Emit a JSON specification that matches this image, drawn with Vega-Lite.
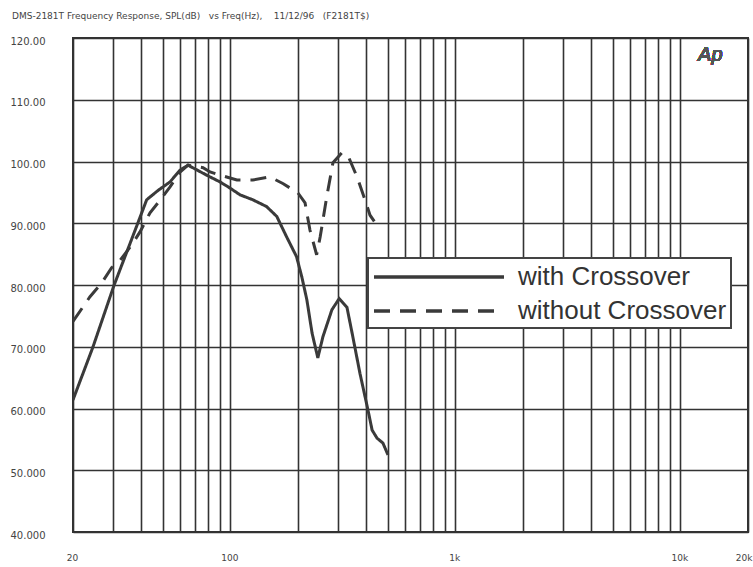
{
  "$schema": "https://vega.github.io/schema/vega-lite/v6.json",
  "width": 675,
  "height": 494,
  "autosize": "none",
  "padding": {"left": 73, "top": 38, "right": 5, "bottom": 35},
  "background": "#ffffff",
  "title": {
    "text": "DMS-2181T Frequency Response,  SPL(dB)\u00a0\u00a0 vs Freq(Hz),\u00a0\u00a0\u00a0 11/12/96\u00a0\u00a0 (F2181T$)",
    "anchor": "start",
    "frame": "group",
    "dx": -61,
    "offset": 15,
    "font": "DejaVu Sans",
    "fontSize": 9,
    "fontWeight": "normal",
    "color": "#444"
  },
  "config": {
    "view": {"stroke": "#333", "strokeWidth": 2},
    "axis": {"domain": false, "ticks": false, "gridColor": "#333", "gridWidth": 1.6, "gridOpacity": 1}
  },
  "data": {
    "values": [
      {"series": "with Crossover", "f": 20, "db": 61.4},
      {"series": "with Crossover", "f": 24.5, "db": 69.9},
      {"series": "with Crossover", "f": 30.4, "db": 79.9},
      {"series": "with Crossover", "f": 38.9, "db": 90.1},
      {"series": "with Crossover", "f": 42.5, "db": 93.8},
      {"series": "with Crossover", "f": 47.7, "db": 95.3},
      {"series": "with Crossover", "f": 54, "db": 96.7},
      {"series": "with Crossover", "f": 59.8, "db": 98.6},
      {"series": "with Crossover", "f": 64.9, "db": 99.4},
      {"series": "with Crossover", "f": 75.7, "db": 98.1},
      {"series": "with Crossover", "f": 81.3, "db": 97.5},
      {"series": "with Crossover", "f": 90, "db": 96.7},
      {"series": "with Crossover", "f": 99.7, "db": 95.7},
      {"series": "with Crossover", "f": 110.5, "db": 94.6},
      {"series": "with Crossover", "f": 126, "db": 93.8},
      {"series": "with Crossover", "f": 145, "db": 92.7},
      {"series": "with Crossover", "f": 161, "db": 91.1},
      {"series": "with Crossover", "f": 178, "db": 87.8},
      {"series": "with Crossover", "f": 197, "db": 84.6},
      {"series": "with Crossover", "f": 208, "db": 81.3},
      {"series": "with Crossover", "f": 219, "db": 77.6},
      {"series": "with Crossover", "f": 231, "db": 72.2},
      {"series": "with Crossover", "f": 245, "db": 68.2},
      {"series": "with Crossover", "f": 258, "db": 71.6},
      {"series": "with Crossover", "f": 283, "db": 76.0},
      {"series": "with Crossover", "f": 305, "db": 77.8},
      {"series": "with Crossover", "f": 330, "db": 76.4},
      {"series": "with Crossover", "f": 348, "db": 72.2},
      {"series": "with Crossover", "f": 377, "db": 65.7},
      {"series": "with Crossover", "f": 409, "db": 59.8},
      {"series": "with Crossover", "f": 427, "db": 56.5},
      {"series": "with Crossover", "f": 449, "db": 55.2},
      {"series": "with Crossover", "f": 477, "db": 54.4},
      {"series": "with Crossover", "f": 502, "db": 52.5},
      {"series": "without Crossover", "f": 20, "db": 74.1},
      {"series": "without Crossover", "f": 23.8, "db": 78.1},
      {"series": "without Crossover", "f": 26.8, "db": 80.3},
      {"series": "without Crossover", "f": 29.7, "db": 82.8},
      {"series": "without Crossover", "f": 32.4, "db": 84.0},
      {"series": "without Crossover", "f": 36.5, "db": 86.5},
      {"series": "without Crossover", "f": 39.7, "db": 88.6},
      {"series": "without Crossover", "f": 44, "db": 91.7},
      {"series": "without Crossover", "f": 47.7, "db": 93.3},
      {"series": "without Crossover", "f": 54, "db": 95.9},
      {"series": "without Crossover", "f": 59.8, "db": 98.3},
      {"series": "without Crossover", "f": 64.9, "db": 99.4},
      {"series": "without Crossover", "f": 75.7, "db": 99.0},
      {"series": "without Crossover", "f": 81.3, "db": 98.3},
      {"series": "without Crossover", "f": 90, "db": 97.8},
      {"series": "without Crossover", "f": 107, "db": 97.0},
      {"series": "without Crossover", "f": 126, "db": 97.0},
      {"series": "without Crossover", "f": 150, "db": 97.5},
      {"series": "without Crossover", "f": 172, "db": 96.4},
      {"series": "without Crossover", "f": 200, "db": 94.9},
      {"series": "without Crossover", "f": 215, "db": 93.3},
      {"series": "without Crossover", "f": 226, "db": 88.9},
      {"series": "without Crossover", "f": 242, "db": 84.9},
      {"series": "without Crossover", "f": 251, "db": 87.8},
      {"series": "without Crossover", "f": 269, "db": 94.5},
      {"series": "without Crossover", "f": 286, "db": 99.8},
      {"series": "without Crossover", "f": 313, "db": 101.4},
      {"series": "without Crossover", "f": 334, "db": 100.9},
      {"series": "without Crossover", "f": 366, "db": 97.5},
      {"series": "without Crossover", "f": 397, "db": 93.8},
      {"series": "without Crossover", "f": 418, "db": 91.3},
      {"series": "without Crossover", "f": 448, "db": 89.7}
    ]
  },
  "layer": [
    {
      "mark": {"type": "line", "strokeWidth": 3, "color": "#3a3a3a", "clip": true},
      "encoding": {
        "x": {
          "field": "f", "type": "quantitative",
          "scale": {"type": "log", "domain": [20, 20000], "nice": false},
          "axis": {
            "title": null,
            "values": [20,30,40,50,60,70,80,90,100,200,300,400,500,600,700,800,900,1000,2000,3000,4000,5000,6000,7000,8000,9000,10000,20000],
            "labelExpr": "indexof([20,100,1000,10000,20000], datum.value) >= 0 ? (datum.value >= 1000 ? (datum.value/1000) + 'k' : datum.value + '') : ''",
            "labelFont": "DejaVu Sans", "labelFontSize": 9, "labelColor": "#444",
            "labelPadding": 21, "labelFlush": false, "labelOverlap": false,
            "labelAlign": {"condition": {"test": "datum.value == 20000", "value": "right"}, "value": "center"},
            "labelOffset": {"condition": {"test": "datum.value == 20000", "value": 4}, "value": -1}
          }
        },
        "y": {
          "field": "db", "type": "quantitative",
          "scale": {"domain": [40, 120], "nice": false, "zero": false},
          "axis": {
            "title": null,
            "values": [40,50,60,70,80,90,100,110,120],
            "labelExpr": "datum.value >= 100 ? format(datum.value, '.2f') : format(datum.value, '.3f')",
            "labelFont": "DejaVu Sans", "labelFontSize": 10, "labelColor": "#444",
            "labelAlign": "left", "labelPadding": 63, "labelOffset": 3, "labelFlush": false, "labelOverlap": false
          }
        },
        "detail": {"field": "series"},
        "strokeDash": {
          "field": "series", "type": "nominal",
          "scale": {"domain": ["with Crossover", "without Crossover"], "range": [[1, 0], [16, 10]]},
          "legend": {
            "title": null,
            "orient": "none",
            "legendX": 295,
            "legendY": 220,
            "direction": "vertical",
            "fillColor": "#ffffff",
            "strokeColor": "#444",
            "padding": 4,
            "symbolType": "M-1,0H9",
            "symbolSize": 676,
            "symbolStrokeWidth": 3.5,
            "symbolStrokeColor": "#3a3a3a",
            "labelFont": "Liberation Sans",
            "labelFontSize": 26,
            "labelColor": "#333",
            "labelOffset": 116,
            "labelLimit": 400,
            "rowPadding": 6,
            "encode": {"legend": {"update": {"strokeWidth": {"value": 2}}}}
          }
        }
      }
    },
    {
      "mark": {"type": "text", "text": "Ap", "fontStyle": "italic", "font": "Liberation Sans", "fontSize": 20, "fill": "#555", "align": "center", "baseline": "middle"},
      "encoding": {
        "x": {"datum": 13600},
        "y": {"datum": 117.2}
      }
    }
  ]
}
